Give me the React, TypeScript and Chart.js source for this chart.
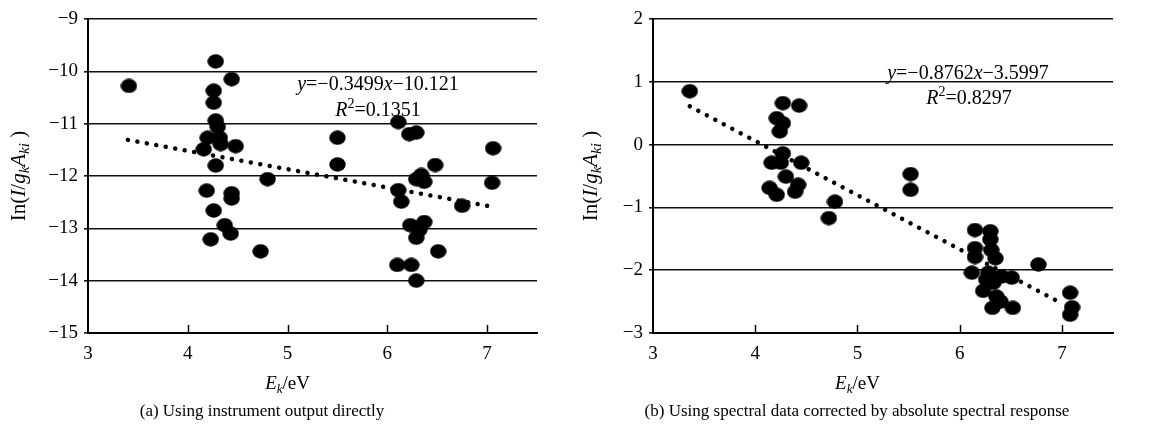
import React, { useEffect, useRef } from 'react';
import { Chart, registerables } from 'chart.js';
Chart.register(...registerables);

// ---------- data ----------
const X_TICKS = [3, 4, 5, 6, 7];
const X_MIN = 3;
const X_MAX = 7.5;

const A_Y_TICKS = [-15, -14, -13, -12, -11, -10, -9];
const B_Y_TICKS = [-3, -2, -1, 0, 1, 2];

const A_X = [3.41, 4.28, 4.44, 4.26, 4.26, 4.28, 4.30, 4.20, 4.32, 4.33, 4.16, 4.48, 4.28, 4.80, 4.19, 4.44, 4.44, 4.26, 4.37, 4.43, 4.23, 4.73,
  5.50, 5.50, 6.11, 6.22, 6.29, 6.48, 6.34, 6.29, 6.37, 6.11, 6.14, 6.75, 7.06, 7.05, 6.23, 6.37, 6.32, 6.29, 6.51, 6.10, 6.24, 6.29];
const A_Y = [-10.28, -9.81, -10.15, -10.37, -10.60, -10.94, -11.06, -11.27, -11.27, -11.39, -11.49, -11.43, -11.80, -12.06, -12.28, -12.33, -12.43, -12.66, -12.94, -13.10, -13.21, -13.44,
  -11.27, -11.78, -10.97, -11.20, -11.17, -11.79, -11.98, -12.06, -12.11, -12.27, -12.49, -12.57, -11.47, -12.13, -12.94, -12.88, -13.03, -13.18, -13.44, -13.70, -13.70, -14.00];

const B_X = [3.36, 4.27, 4.43, 4.21, 4.27, 4.24, 4.27, 4.16, 4.25, 4.45, 4.30, 4.14, 4.42, 4.21, 4.39, 4.78, 4.72,
  5.52, 5.52, 6.15, 6.30, 6.30, 6.15, 6.31, 6.15, 6.35, 6.77, 6.12, 6.28, 6.41, 6.51, 6.33, 6.23, 6.36, 6.40, 6.32, 6.52, 7.08, 7.10, 7.08, 6.26];
const B_Y = [0.85, 0.66, 0.62, 0.42, 0.34, 0.21, -0.14, -0.29, -0.29, -0.29, -0.51, -0.69, -0.64, -0.80, -0.75, -0.91, -1.17,
  -0.47, -0.72, -1.36, -1.38, -1.51, -1.65, -1.68, -1.79, -1.81, -1.91, -2.04, -2.04, -2.10, -2.12, -2.20, -2.33, -2.42, -2.50, -2.60, -2.60, -2.36, -2.59, -2.71, -2.15];

const A_TREND_X = [3.4, 7.0];
const A_TREND_Y = [-11.31, -12.57];
const B_TREND_X = [3.36, 7.0];
const B_TREND_Y = [0.61, -2.53];

const A_EQ = ['−0.3499', '−10.121', '0.1351'];
const B_EQ = ['−0.8762', '−3.5997', '0.8297'];

const CAPTION_A = '(a) Using instrument output directly';
const CAPTION_B = '(b) Using spectral data corrected by absolute spectral response';

// ---------- drawing helpers ----------
const FONT = '"Liberation Serif", "Times New Roman", serif';
type Seg = { t: string; i?: boolean; sub?: boolean; sup?: boolean };

function segFont(s: Seg, size: number) {
  const sz = s.sub || s.sup ? Math.round(size * 0.7) : size;
  return `${s.i ? 'italic ' : ''}${sz}px ${FONT}`;
}

function drawRich(ctx: CanvasRenderingContext2D, segs: Seg[], cx: number, cy: number, size: number, rot = 0) {
  ctx.save();
  ctx.translate(cx, cy);
  if (rot) ctx.rotate(rot);
  let total = 0;
  const widths = segs.map((s) => {
    ctx.font = segFont(s, size);
    const w = ctx.measureText(s.t).width;
    total += w;
    return w;
  });
  let x = -total / 2;
  const base = size * 0.33;
  ctx.fillStyle = '#000';
  ctx.textBaseline = 'alphabetic';
  ctx.textAlign = 'left';
  segs.forEach((s, k) => {
    ctx.font = segFont(s, size);
    let y = base;
    if (s.sub) y += size * 0.2;
    if (s.sup) y -= size * 0.36;
    ctx.fillText(s.t, x, y);
    x += widths[k];
  });
  ctx.restore();
}

const Y_TITLE: Seg[] = [
  { t: 'In(' }, { t: 'I', i: true }, { t: '/' }, { t: 'g', i: true }, { t: 'k', i: true, sub: true },
  { t: 'A', i: true }, { t: 'ki', i: true, sub: true }, { t: ' )' },
];
const X_TITLE: Seg[] = [{ t: 'E', i: true }, { t: 'k', i: true, sub: true }, { t: '/eV' }];

function makeMarker() {
  const c = document.createElement('canvas');
  c.width = 17;
  c.height = 15;
  const g = c.getContext('2d')!;
  g.fillStyle = '#000';
  g.beginPath();
  g.ellipse(8.5, 7.5, 8.2, 7.2, 0, 0, Math.PI * 2);
  g.fill();
  return c;
}

type Cfg = {
  xs: number[]; ys: number[]; tx: number[]; ty: number[]; yTicks: number[];
  eq: string[]; eqPos: [number, number]; r2Pos: [number, number];
  caption: string; capX: number; yTitleX: number;
  axisW: number; padRight: number;
};

function buildChart(canvas: HTMLCanvasElement, cfg: Cfg) {
  const marker = makeMarker();
  const overlay = {
    id: 'overlay',
    afterDraw(chart: any) {
      const ctx = chart.ctx as CanvasRenderingContext2D;
      const xs = chart.scales.x;
      const area = chart.chartArea;
      ctx.save();
      ctx.strokeStyle = '#000';
      ctx.lineWidth = 1.5;
      X_TICKS.forEach((v) => {
        if (v === X_MIN) return;
        const px = Math.round(xs.getPixelForValue(v)) + 0.5;
        ctx.beginPath();
        ctx.moveTo(px, area.bottom);
        ctx.lineTo(px, area.bottom - 8);
        ctx.stroke();
      });
      ctx.restore();
      drawRich(ctx, Y_TITLE, cfg.yTitleX, (area.top + area.bottom) / 2, 21, -Math.PI / 2);
      drawRich(ctx, X_TITLE, xs.getPixelForValue(5), 383, 19);
      drawRich(ctx, [{ t: cfg.caption }], cfg.capX, 410, 17);
      drawRich(ctx, [{ t: 'y', i: true }, { t: '=' + cfg.eq[0] }, { t: 'x', i: true }, { t: cfg.eq[1] }], cfg.eqPos[0], cfg.eqPos[1], 20);
      drawRich(ctx, [{ t: 'R', i: true }, { t: '2', sup: true }, { t: '=' + cfg.eq[2] }], cfg.r2Pos[0], cfg.r2Pos[1], 20);
    },
  };

  return new Chart(canvas, {
    type: 'scatter',
    data: {
      datasets: [
        {
          type: 'line',
          data: cfg.tx.map((x, k) => ({ x, y: cfg.ty[k] })),
          borderColor: '#000',
          borderWidth: 4.5,
          borderDash: [0.01, 9.6],
          borderCapStyle: 'round',
          pointRadius: 0,
          fill: false,
        } as any,
        {
          data: cfg.xs.map((x, k) => ({ x, y: cfg.ys[k] })),
          pointStyle: marker as any,
          pointRadius: 8,
          backgroundColor: '#000',
          borderColor: '#000',
        },
      ],
    },
    options: {
      responsive: false,
      animation: false,
      events: [],
      layout: { padding: { left: 0, top: 19, right: cfg.padRight, bottom: 434 - 333 - 30 } },
      plugins: { legend: { display: false }, tooltip: { enabled: false }, title: { display: false } },
      scales: {
        x: {
          type: 'linear',
          min: X_MIN,
          max: X_MAX,
          afterBuildTicks: (s: any) => { s.ticks = X_TICKS.map((v) => ({ value: v })); },
          afterFit: (s: any) => { s.height = 30; },
          grid: { display: false, drawTicks: false },
          border: { display: true, color: '#000', width: 2 },
          ticks: { color: '#000', padding: 10, font: { family: FONT, size: 19 }, maxRotation: 0 },
        },
        y: {
          type: 'linear',
          min: cfg.yTicks[0],
          max: cfg.yTicks[cfg.yTicks.length - 1],
          afterBuildTicks: (s: any) => { s.ticks = cfg.yTicks.map((v) => ({ value: v })); },
          afterFit: (s: any) => { s.width = cfg.axisW; },
          grid: { color: '#111', lineWidth: 1.6, tickLength: 4, drawTicks: true },
          border: { display: true, color: '#000', width: 2 },
          ticks: {
            color: '#000',
            padding: 6,
            font: { family: FONT, size: 19 },
            callback: (v: any) => String(v).replace('-', '−'),
          },
        },
      },
    },
    plugins: [overlay],
  } as any);
}

export default function App() {
  const leftRef = useRef<HTMLCanvasElement>(null);
  const rightRef = useRef<HTMLCanvasElement>(null);

  useEffect(() => {
    const a = buildChart(leftRef.current!, {
      xs: A_X, ys: A_Y, tx: A_TREND_X, ty: A_TREND_Y, yTicks: A_Y_TICKS,
      eq: A_EQ, eqPos: [378, 83], r2Pos: [378, 109],
      caption: CAPTION_A, capX: 262, yTitleX: 18,
      axisW: 88, padRight: 580 - 537,
    });
    const b = buildChart(rightRef.current!, {
      xs: B_X, ys: B_Y, tx: B_TREND_X, ty: B_TREND_Y, yTicks: B_Y_TICKS,
      eq: B_EQ, eqPos: [968 - 575, 72], r2Pos: [969 - 575, 97],
      caption: CAPTION_B, capX: 857 - 575, yTitleX: 15,
      axisW: 78, padRight: 582 - 538,
    });
    return () => { a.destroy(); b.destroy(); };
  }, []);

  return (
    <div style={{ position: 'absolute', left: 0, top: 0, width: 1157, height: 434, background: '#fff', overflow: 'hidden' }}>
      <canvas ref={leftRef} width={580} height={434} style={{ position: 'absolute', left: 0, top: 0 }} />
      <canvas ref={rightRef} width={582} height={434} style={{ position: 'absolute', left: 575, top: 0 }} />
    </div>
  );
}
